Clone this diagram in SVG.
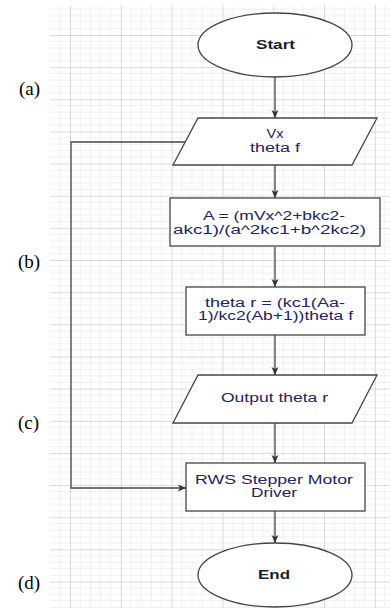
<svg xmlns="http://www.w3.org/2000/svg" width="390" height="608" viewBox="0 0 390 608">
<style>
.shape{fill:#ffffff;stroke:#454545;stroke-width:1.3}
.t{font-family:"Liberation Sans",Arial,sans-serif;font-size:12px;fill:#23235e;text-anchor:middle}
.b{font-weight:bold;font-size:13px;fill:#1c1c2c}
.lab{font-family:"Liberation Serif","Times New Roman",serif;font-size:19px;fill:#000}
.conn{fill:none;stroke:#454545;stroke-width:1.3}
</style>
<defs>
<pattern id="grid" patternUnits="userSpaceOnUse" x="70" y="35" width="50.8" height="32.15">
<g stroke="#efefef" stroke-width="1">
<line x1="10.16" y1="0" x2="10.16" y2="32.15"/>
<line x1="20.32" y1="0" x2="20.32" y2="32.15"/>
<line x1="30.48" y1="0" x2="30.48" y2="32.15"/>
<line x1="40.64" y1="0" x2="40.64" y2="32.15"/>
<line x1="0" y1="6.43" x2="50.8" y2="6.43"/>
<line x1="0" y1="12.86" x2="50.8" y2="12.86"/>
<line x1="0" y1="19.29" x2="50.8" y2="19.29"/>
<line x1="0" y1="25.72" x2="50.8" y2="25.72"/>
</g>
<g stroke="#d9d9d9" stroke-width="1">
<line x1="0.5" y1="0" x2="0.5" y2="32.15"/>
<line x1="0" y1="0.5" x2="50.8" y2="0.5"/>
</g>
</pattern>
<marker id="arr" markerUnits="userSpaceOnUse" markerWidth="9" markerHeight="8" refX="8" refY="3.5" orient="auto">
<path d="M0,0 L8,3.5 L0,7 L2,3.5 z" fill="#333"/>
</marker>
</defs>
<rect x="50" y="5" width="340" height="603" fill="url(#grid)"/>

<g id="labels">
<text class="lab" x="19" y="95">(a)</text>
<text class="lab" x="18" y="268">(b)</text>
<text class="lab" x="18" y="429">(c)</text>
<text class="lab" x="18" y="589">(d)</text>
</g>

<g id="connectors">
<line class="conn" x1="275" y1="77" x2="275" y2="118" marker-end="url(#arr)"/>
<line class="conn" x1="275" y1="165" x2="275" y2="198" marker-end="url(#arr)"/>
<line class="conn" x1="275" y1="247" x2="275" y2="287" marker-end="url(#arr)"/>
<line class="conn" x1="275" y1="335" x2="275" y2="375" marker-end="url(#arr)"/>
<line class="conn" x1="275" y1="423" x2="275" y2="463" marker-end="url(#arr)"/>
<line class="conn" x1="275" y1="511" x2="275" y2="543" marker-end="url(#arr)"/>
<polyline class="conn" points="185,142 71,142 71,488 186,488" marker-end="url(#arr)"/>
</g>

<g id="start">
<ellipse class="shape" cx="275" cy="45" rx="77" ry="32"/>
<text class="t b" x="275.5" y="49" textLength="39" lengthAdjust="spacingAndGlyphs">Start</text>
</g>

<g id="input">
<polygon class="shape" points="198,118 377,118 352,165 173,165"/>
<text class="t" x="275" y="138" textLength="17" lengthAdjust="spacingAndGlyphs">Vx</text>
<text class="t" x="275" y="152" textLength="50" lengthAdjust="spacingAndGlyphs">theta f</text>
</g>

<g id="calcA">
<rect class="shape" x="170" y="198" width="210" height="48"/>
<text class="t" x="274" y="220" textLength="142" lengthAdjust="spacingAndGlyphs">A = (mVx^2+bkc2-</text>
<text class="t" x="269.5" y="234" textLength="193" lengthAdjust="spacingAndGlyphs">akc1)/(a^2kc1+b^2kc2)</text>
</g>

<g id="calcTheta">
<rect class="shape" x="186" y="287" width="179" height="48"/>
<text class="t" x="275" y="307" textLength="140" lengthAdjust="spacingAndGlyphs">theta r = (kc1(Aa-</text>
<text class="t" x="275.5" y="320" textLength="155" lengthAdjust="spacingAndGlyphs">1)/kc2(Ab+1))theta f</text>
</g>

<g id="output">
<polygon class="shape" points="198,375 377,375 352,423 173,423"/>
<text class="t" x="274.5" y="402" textLength="107" lengthAdjust="spacingAndGlyphs">Output theta r</text>
</g>

<g id="driver">
<rect class="shape" x="186" y="463" width="179" height="48"/>
<text class="t" x="274" y="484" textLength="158" lengthAdjust="spacingAndGlyphs">RWS Stepper Motor</text>
<text class="t" x="274" y="497" textLength="46" lengthAdjust="spacingAndGlyphs">Driver</text>
</g>

<g id="end">
<ellipse class="shape" cx="275" cy="575" rx="77" ry="32"/>
<text class="t b" x="274" y="579" textLength="32" lengthAdjust="spacingAndGlyphs">End</text>
</g>
</svg>
